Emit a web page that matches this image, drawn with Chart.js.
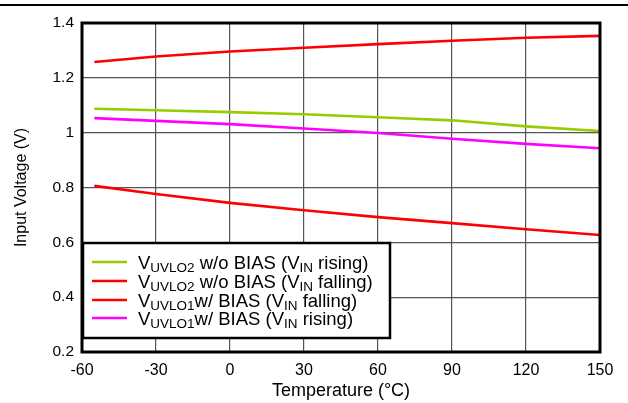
<!DOCTYPE html>
<html>
<head>
<meta charset="utf-8">
<script src="https://cdn.jsdelivr.net/npm/chart.js@4.4.0/dist/chart.umd.min.js"></script>
<style>
html,body{margin:0;padding:0;background:#fff;}
#wrap{width:628px;height:403px;position:relative;}
</style>
</head>
<body>
<div id="wrap"><canvas id="c" width="628" height="403"></canvas></div>
<script>
// Data
const temps = [-55, -30, 0, 30, 60, 90, 120, 150];
const uvlo2RisingNoBias  = [1.087, 1.082, 1.075, 1.067, 1.056, 1.045, 1.023, 1.006];
const uvlo2FallingNoBias = [0.806, 0.776, 0.744, 0.717, 0.692, 0.670, 0.648, 0.627];
const uvlo1FallingBias   = [1.258, 1.278, 1.296, 1.310, 1.323, 1.335, 1.346, 1.353];
const uvlo1RisingBias    = [1.053, 1.043, 1.031, 1.015, 0.999, 0.978, 0.959, 0.943];
const xTicks = [-60, -30, 0, 30, 60, 90, 120, 150];
const yTicks = [0.2, 0.4, 0.6, 0.8, 1.0, 1.2, 1.4];

// Legend text pieces: [text, isSubscript]
const legendItems = [
  {color: '#99cc00', parts: [['V',0],['UVLO2',1],[' w/o BIAS (V',0],['IN',1],[' rising)',0]]},
  {color: '#ff0000', parts: [['V',0],['UVLO2',1],[' w/o BIAS (V',0],['IN',1],[' falling)',0]]},
  {color: '#ff0000', parts: [['V',0],['UVLO1',1],['w/ BIAS (V',0],['IN',1],[' falling)',0]]},
  {color: '#ff00ff', parts: [['V',0],['UVLO1',1],['w/ BIAS (V',0],['IN',1],[' rising)',0]]}
];

const toPts = arr => temps.map((t, i) => ({x: t, y: arr[i]}));
const FONT = '"Liberation Sans", Arial, Helvetica, sans-serif';

const mk = (data, color) => ({
  data: toPts(data), borderColor: color, backgroundColor: color,
  borderWidth: 2.6, pointRadius: 0, tension: 0, fill: false
});

const framePlugin = {
  id: 'frame',
  afterDatasetsDraw(chart) {
    const ctx = chart.ctx, a = chart.chartArea;
    ctx.save();
    // outer plot frame
    ctx.strokeStyle = '#000';
    ctx.lineWidth = 3;
    ctx.strokeRect(a.left, a.top, a.right - a.left, a.bottom - a.top);
    // top page rule
    ctx.lineWidth = 2;
    ctx.beginPath();
    ctx.moveTo(0, 5); ctx.lineTo(628, 5);
    ctx.stroke();

    // legend box
    const bx = a.left + 1, by = 243, bw = 307, bh = 95;
    ctx.fillStyle = '#fff';
    ctx.fillRect(bx, by, bw, bh);
    ctx.lineWidth = 2.5;
    ctx.strokeRect(bx, by, bw, bh);
    const rowY = [262, 281, 300, 318];
    legendItems.forEach((it, i) => {
      const y = rowY[i];
      ctx.strokeStyle = it.color;
      ctx.lineWidth = 2.6;
      ctx.beginPath();
      ctx.moveTo(92, y); ctx.lineTo(127, y);
      ctx.stroke();
      let x = 138;
      ctx.fillStyle = '#000';
      ctx.textBaseline = 'alphabetic';
      ctx.textAlign = 'left';
      it.parts.forEach(([txt, sub]) => {
        ctx.font = (sub ? '13.5px ' : '18.5px ') + FONT;
        const yy = sub ? y + 10 : y + 7;
        ctx.fillText(txt, x, yy);
        x += ctx.measureText(txt).width;
      });
    });
    ctx.restore();
  }
};

new Chart(document.getElementById('c'), {
  type: 'line',
  data: {
    datasets: [
      mk(uvlo2RisingNoBias, '#99cc00'),
      mk(uvlo2FallingNoBias, '#ff0000'),
      mk(uvlo1FallingBias, '#ff0000'),
      mk(uvlo1RisingBias, '#ff00ff')
    ]
  },
  options: {
    responsive: false,
    animation: false,
    layout: {padding: {top: 23, right: 28, left: 0, bottom: 0}},
    plugins: {legend: {display: false}, tooltip: {enabled: false}},
    scales: {
      x: {
        type: 'linear', min: -60, max: 150,
        afterFit: s => { s.height = 51; },
        afterBuildTicks: s => { s.ticks = xTicks.map(v => ({value: v})); },
        grid: {color: '#555', lineWidth: 1.2, drawTicks: false},
        border: {display: false},
        ticks: {color: '#000', font: {family: FONT, size: 16}, padding: 9, maxRotation: 0,
                callback: v => String(v)},
        title: {display: true, text: 'Temperature (°C)', color: '#000',
                font: {family: FONT, size: 18}, padding: {top: 0, bottom: 1}}
      },
      y: {
        type: 'linear', min: 0.2, max: 1.4,
        afterFit: s => { s.width = 82; },
        afterBuildTicks: s => { s.ticks = yTicks.map(v => ({value: v})); },
        grid: {color: '#555', lineWidth: 1.2, drawTicks: false},
        border: {display: false},
        ticks: {color: '#000', font: {family: FONT, size: 15.5}, padding: 8,
                callback: v => String(Number(v.toFixed(1)))},
        title: {display: true, text: 'Input Voltage (V)', color: '#000',
                font: {family: FONT, size: 16}, padding: {top: 12, bottom: 0}}
      }
    }
  },
  plugins: [framePlugin]
});
</script>
</body>
</html>
